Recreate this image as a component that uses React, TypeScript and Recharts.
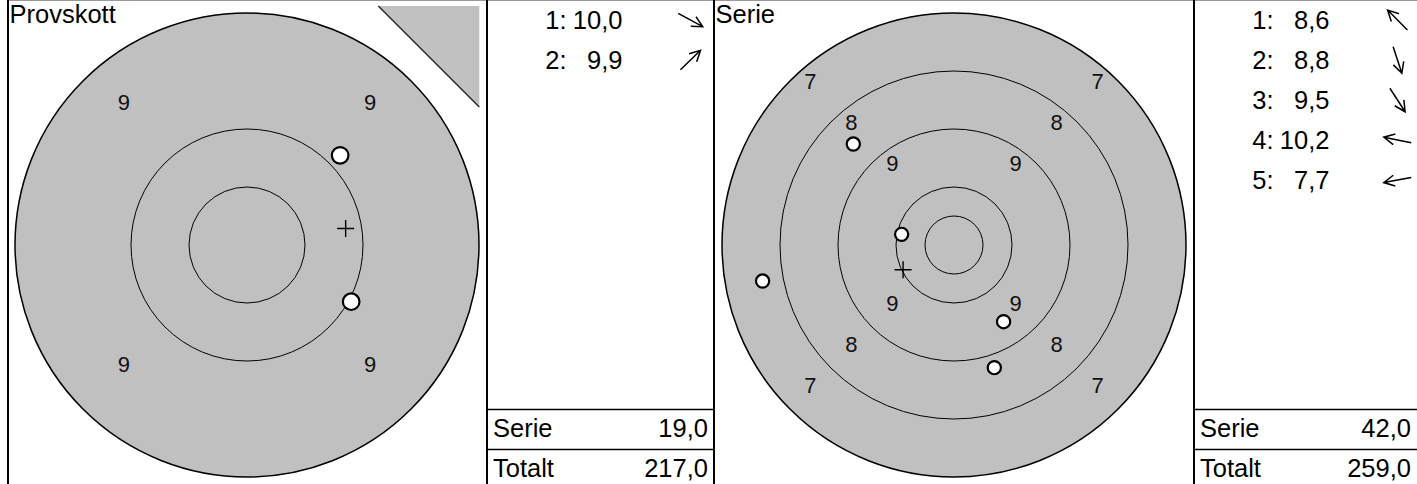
import React from 'react';
import { ScatterChart, Scatter, XAxis, YAxis } from 'recharts';

const FONT = '"Liberation Sans", Arial, Helvetica, sans-serif';
const GRAY = '#c0c0c0';
const H = 484;

// radii in ring widths (1 = one scoring ring), outermost first
const provRings = [2, 1, 0.5];
const provRingLabels = [9];
// shot positions in ring widths, x right / y up from centre
const provShots = [
  { x: 0.898, y: -0.489 },
  { x: 0.803, y: 0.773 },
];
const provScores = [10.0, 9.9];
const provSerie = 19.0;
const provTotal = 217.0;

const serieRings = [4, 3, 2, 1, 0.5];
const serieRingLabels = [7, 8, 9];
const serieShots = [
  { x: -1.736, y: 1.741 },
  { x: 0.695, y: -2.115 },
  { x: 0.855, y: -1.322 },
  { x: -0.903, y: 0.184 },
  { x: -3.3, y: -0.621 },
];
const serieScores = [8.6, 8.8, 9.5, 10.2, 7.7];
const serieSerie = 42.0;
const serieTotal = 259.0;

const quadrants = [
  [-1, 1],
  [1, 1],
  [-1, -1],
  [1, -1],
];

const fmt = (v: number) => v.toFixed(1).replace('.', ',');

interface TargetProps {
  left: number;
  width: number;
  centerY: number;
  ppu: number;
  rings: number[];
  labels: number[];
  shots: { x: number; y: number }[];
  shotR: number;
  title: string;
  corner?: boolean;
}

const Target: React.FC<TargetProps> = ({ left, width, centerY, ppu, rings, labels, shots, shotR, title, corner }) => {
  const xMax = width / 2 / ppu;
  const yMax = centerY / ppu;
  const yMin = -(H - centerY) / ppu;

  const ringData = rings.map((r, i) => ({ x: 0, y: 0, r, outer: i === 0 }));
  const labelData = labels.flatMap((v) =>
    quadrants.map(([sx, sy]) => {
      const d = (10.5 - v) / Math.SQRT2;
      return { x: sx * d, y: sy * d, label: v, top: sy > 0 };
    })
  );
  const mean = [
    {
      x: shots.reduce((s, p) => s + p.x, 0) / shots.length,
      y: shots.reduce((s, p) => s + p.y, 0) / shots.length,
    },
  ];
  const cornerData = [{ x: xMax, y: yMax }];

  return (
    <div style={{ position: 'absolute', left, top: 0, width, height: H }}>
      <ScatterChart width={width} height={H} margin={{ top: 0, right: 0, bottom: 0, left: 0 }}>
        <XAxis type="number" dataKey="x" domain={[-xMax, xMax]} hide allowDataOverflow />
        <YAxis type="number" dataKey="y" domain={[yMin, yMax]} hide allowDataOverflow />
        {corner && (
          <Scatter
            data={cornerData}
            isAnimationActive={false}
            shape={(p: any) => {
              const rx = p.cx - 6.7;
              const ty = p.cy + 6;
              return (
                <g>
                  <polygon points={`${rx - 101},${ty} ${rx},${ty} ${rx},${ty + 101}`} fill={GRAY} />
                  <line x1={rx - 101} y1={ty} x2={rx} y2={ty + 101} stroke="#222" strokeWidth={1.3} />
                </g>
              );
            }}
          />
        )}
        <Scatter
          data={ringData}
          isAnimationActive={false}
          shape={(p: any) => (
            <circle
              cx={p.cx}
              cy={p.cy}
              r={p.payload.r * ppu}
              fill={p.payload.outer ? GRAY : 'none'}
              stroke="#000"
              strokeWidth={p.payload.outer ? 1.5 : 1}
            />
          )}
        />
        <Scatter
          data={labelData}
          isAnimationActive={false}
          shape={(p: any) => (
            <text
              x={p.cx}
              y={p.cy + (p.payload.top ? -12 : 4)}
              textAnchor="middle"
              fill="#111"
              fontSize={22}
              fontFamily={FONT}
              style={{ fontSize: '22px', fontFamily: FONT }}
            >
              {p.payload.label}
            </text>
          )}
        />
        <Scatter
          data={shots}
          isAnimationActive={false}
          shape={(p: any) => <circle cx={p.cx} cy={p.cy} r={shotR} fill="#fff" stroke="#000" strokeWidth={2.2} />}
        />
        <Scatter
          data={mean}
          isAnimationActive={false}
          shape={(p: any) => (
            <path
              d={`M${p.cx - 8.5},${p.cy}H${p.cx + 8.5}M${p.cx},${p.cy - 8.5}V${p.cy + 8.5}`}
              stroke="#000"
              strokeWidth={1.4}
              fill="none"
            />
          )}
        />
      </ScatterChart>
      <svg width={width} height={40} style={{ position: 'absolute', left: 0, top: 0 }}>
        <text x={1.5} y={22.7} style={{ fontSize: '25.5px', fontFamily: FONT }} fill="#000">
          {title}
        </text>
      </svg>
    </div>
  );
};

interface ScoreProps {
  left: number;
  width: number;
  scores: number[];
  shots: { x: number; y: number }[];
  serie: number;
  total: number;
}

const Arrow: React.FC<{ cx: number; cy: number; dx: number; dy: number }> = ({ cx, cy, dx, dy }) => {
  const len = Math.hypot(dx, dy);
  const ux = dx / len;
  const uy = -dy / len;
  const half = 14;
  const tx = cx + ux * half;
  const ty = cy + uy * half;
  const bx = cx - ux * half;
  const by = cy - uy * half;
  const a = (27 * Math.PI) / 180;
  const hl = 12;
  const h1x = tx - hl * (ux * Math.cos(a) - uy * Math.sin(a));
  const h1y = ty - hl * (uy * Math.cos(a) + ux * Math.sin(a));
  const h2x = tx - hl * (ux * Math.cos(a) + uy * Math.sin(a));
  const h2y = ty - hl * (uy * Math.cos(a) - ux * Math.sin(a));
  return (
    <path
      d={`M${bx},${by}L${tx},${ty}M${h1x},${h1y}L${tx},${ty}L${h2x},${h2y}`}
      stroke="#000"
      strokeWidth={1.5}
      fill="none"
    />
  );
};

const txt = { fontSize: '25.5px', fontFamily: FONT };

const ScorePanel: React.FC<ScoreProps> = ({ left, width, scores, shots, serie, total }) => (
  <svg width={width} height={H} style={{ position: 'absolute', left, top: 0 }}>
    {scores.map((s, i) => (
      <g key={i}>
        <text x={79.5} y={29 + 40 * i} textAnchor="end" style={txt}>
          {`${i + 1}:`}
        </text>
        <text x={135.5} y={29 + 40 * i} textAnchor="end" style={txt}>
          {fmt(s)}
        </text>
        <Arrow cx={203.5} cy={20 + 40 * i} dx={shots[i].x} dy={shots[i].y} />
      </g>
    ))}
    <line x1={0} y1={409.5} x2={width} y2={409.5} stroke="#000" strokeWidth={1.3} />
    <line x1={0} y1={449.5} x2={width} y2={449.5} stroke="#000" strokeWidth={1.3} />
    <text x={6} y={437} style={txt}>
      Serie
    </text>
    <text x={width - 6} y={437} textAnchor="end" style={txt}>
      {fmt(serie)}
    </text>
    <text x={6} y={477} style={txt}>
      Totalt
    </text>
    <text x={width - 6} y={477} textAnchor="end" style={txt}>
      {fmt(total)}
    </text>
  </svg>
);

const vline = (x: number) => (
  <div style={{ position: 'absolute', left: x, top: 0, width: 2, height: H, background: '#000' }} />
);

export default function App() {
  return (
    <div
      style={{
        position: 'fixed',
        left: 0,
        top: 0,
        width: 1417,
        height: H,
        overflow: 'hidden',
        background: '#fff',
        fontFamily: FONT,
      }}
    >
      <Target
        left={8}
        width={478}
        centerY={245}
        ppu={116}
        rings={provRings}
        labels={provRingLabels}
        shots={provShots}
        shotR={8.3}
        title="Provskott"
        corner
      />
      <ScorePanel left={487} width={227} scores={provScores} shots={provShots} serie={provSerie} total={provTotal} />
      <Target
        left={714}
        width={480}
        centerY={245}
        ppu={58}
        rings={serieRings}
        labels={serieRingLabels}
        shots={serieShots}
        shotR={6.6}
        title="Serie"
      />
      <ScorePanel left={1194} width={223} scores={serieScores} shots={serieShots} serie={serieSerie} total={serieTotal} />
      <div style={{ position: 'absolute', left: 8, top: 0, width: 1409, height: 1, background: '#999' }} />
      {vline(7)}
      {vline(486)}
      {vline(713)}
      {vline(1193)}
    </div>
  );
}
